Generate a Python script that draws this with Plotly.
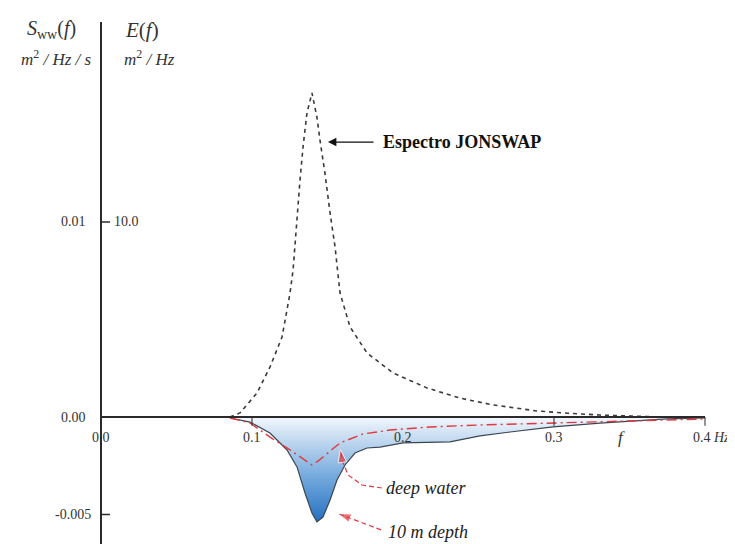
import plotly.graph_objects as go

# ---------------- data ----------------
# JONSWAP spectrum E(f) in m^2/Hz (right scale: 10.0 m^2/Hz  <->  0.01 m^2/Hz/s)
jons_f = [0.0854, 0.0921, 0.1033, 0.1119, 0.1199, 0.1252, 0.1272, 0.1298, 0.1318, 0.1338,
          0.1364, 0.1397, 0.1430, 0.1450, 0.1483, 0.1517, 0.1550, 0.1583, 0.1649, 0.1762,
          0.1934, 0.2159, 0.2377, 0.2596, 0.2887, 0.3060, 0.3305, 0.3702, 0.4000]
jons_E = [0.00, 0.21, 1.23, 2.56, 4.10, 6.36, 7.54, 10.46, 12.15, 13.85,
          15.59, 16.62, 15.38, 14.21, 12.51, 10.46, 8.72, 6.36, 4.62, 3.28,
          2.26, 1.49, 0.97, 0.62, 0.31, 0.21, 0.10, 0.00, 0.00]

# Sww(f), 10 m depth (m^2/Hz/s)
d10_f = [0.0854, 0.0987, 0.1119, 0.1232, 0.1298, 0.1351, 0.1397, 0.1430, 0.1470, 0.1517,
         0.1563, 0.1616, 0.1682, 0.1762, 0.1848, 0.2000, 0.2311, 0.2510, 0.2709, 0.2993,
         0.3305, 0.3748, 0.4000]
d10_S = [-0.00005, -0.00026, -0.00082, -0.00169, -0.00256, -0.00390, -0.00492, -0.00538,
         -0.00513, -0.00426, -0.00323, -0.00246, -0.00185, -0.00159, -0.00154, -0.00133,
         -0.00128, -0.00097, -0.00077, -0.00051, -0.00031, -0.00010, -0.00005]

# Sww(f), deep water (m^2/Hz/s)
deep_f = [0.0854, 0.0987, 0.1119, 0.1252, 0.1397, 0.1437, 0.1583, 0.1735, 0.1914, 0.2179,
          0.2510, 0.2974, 0.3437, 0.4000]
deep_S = [-0.00005, -0.00031, -0.00103, -0.00169, -0.00246, -0.00226, -0.00133, -0.00087,
          -0.00067, -0.00051, -0.00041, -0.00031, -0.00021, -0.00010]

E_TO_S = 0.001  # 10.0 m^2/Hz drawn at 0.01 m^2/Hz/s

x_ticks = [0.1, 0.2, 0.3]
x_tick_labels = ["0.1", "0.2", "0.3"]
y_ticks = [0.01, 0.0, -0.005]
y_tick_labels = ["0.01", "0.00", "-0.005"]
E_tick_value = 10.0
E_tick_label = "10.0"

# the page body has an 8px margin, so the plot is 727x536 and starts at (8, 8)
X_RANGE = [-0.06159, 0.41987]
Y_RANGE = [-0.006513, 0.020974]
Y_TOP = 0.02026

SERIF = "Liberation Serif"
TXT = "#333333"
RED = "#e0383f"

fig = go.Figure()

# 10 m depth filled area
fig.add_trace(go.Scatter(
    x=d10_f, y=d10_S, mode="lines", fill="tozeroy",
    line=dict(color="#3c4652", width=1.2),
    fillgradient=dict(type="vertical", start=-0.0054, stop=0.0,
                      colorscale=[[0, "#2470c0"], [0.45, "#78acde"], [1, "#f3f7fc"]]),
    showlegend=False, hoverinfo="skip"))

# deep water
fig.add_trace(go.Scatter(
    x=deep_f, y=deep_S, mode="lines",
    line=dict(color=RED, width=1.4, dash="10px,4px,2px,4px"),
    showlegend=False, hoverinfo="skip"))

# JONSWAP
fig.add_trace(go.Scatter(
    x=jons_f, y=[e * E_TO_S for e in jons_E], mode="lines",
    line=dict(color="#3a3a3a", width=1.6, dash="4px,4px"),
    showlegend=False, hoverinfo="skip"))

shapes = []
# axes
shapes.append(dict(type="line", x0=0, x1=0, y0=Y_RANGE[0], y1=Y_TOP, xref="x", yref="y",
                   line=dict(color="#2a2a2a", width=2)))
shapes.append(dict(type="line", x0=0, x1=0.4, y0=0, y1=0, xref="x", yref="y",
                   line=dict(color="#2a2a2a", width=2)))
# x ticks
for t in [0.1, 0.3, 0.4]:
    shapes.append(dict(type="line", x0=t, x1=t, y0=0.0, y1=-0.00045, xref="x", yref="y",
                       line=dict(color="#2a2a2a", width=1)))
# y ticks
for t in [0.01, -0.005]:
    shapes.append(dict(type="line", x0=0, x1=0.006, y0=t, y1=t, xref="x", yref="y",
                       line=dict(color="#2a2a2a", width=1.5)))

ann = []
# y tick labels (left column)
for v, lab in zip(y_ticks, y_tick_labels):
    ann.append(dict(x=-0.0185, y=v, text=lab, showarrow=False, xref="x", yref="y",
                    font=dict(family=SERIF, size=14, color=TXT), xanchor="center",
                    yanchor="middle"))
# right-side E tick label
ann.append(dict(x=0.0170, y=E_tick_value * E_TO_S, text=E_tick_label, showarrow=False,
                xref="x", yref="y", font=dict(family=SERIF, size=14, color=TXT),
                xanchor="center", yanchor="middle"))
ann.append(dict(x=0.0, y=-0.00105, text="0.0", showarrow=False, xref="x", yref="y",
                font=dict(family=SERIF, size=14, color=TXT), xanchor="center", yanchor="middle"))
# x tick labels
for v, lab in zip(x_ticks, x_tick_labels):
    ann.append(dict(x=v, y=-0.00105, text=lab, showarrow=False, xref="x", yref="y",
                    font=dict(family=SERIF, size=14, color=TXT), xanchor="center",
                    yanchor="middle"))
ann.append(dict(x=0.345, y=-0.00105, text="<i>f</i>", showarrow=False, xref="x", yref="y",
                font=dict(family=SERIF, size=17, color=TXT), xanchor="center", yanchor="middle"))
ann.append(dict(x=0.391, y=-0.00105, text="0.4 <i>Hz</i>", showarrow=False, xref="x", yref="y",
                font=dict(family=SERIF, size=14, color=TXT), xanchor="left", yanchor="middle"))

# header labels
ann.append(dict(x=-0.0330, y=0.01985, text="<i>S</i><sub>ww</sub>(<i>f</i>)", showarrow=False,
                xref="x", yref="y", font=dict(family=SERIF, size=20, color=TXT),
                xanchor="center", yanchor="middle"))
ann.append(dict(x=-0.0295, y=0.01840, text="<i>m</i><sup>2</sup><i> / Hz / s</i>", showarrow=False,
                xref="x", yref="y", font=dict(family=SERIF, size=17, color=TXT),
                xanchor="center", yanchor="middle"))
ann.append(dict(x=0.0270, y=0.01985, text="<i>E</i>(<i>f</i>)", showarrow=False,
                xref="x", yref="y", font=dict(family=SERIF, size=21, color=TXT),
                xanchor="center", yanchor="middle"))
ann.append(dict(x=0.0320, y=0.01840, text="<i>m</i><sup>2</sup><i> / Hz</i>", showarrow=False,
                xref="x", yref="y", font=dict(family=SERIF, size=17, color=TXT),
                xanchor="center", yanchor="middle"))

# JONSWAP label with arrow
ann.append(dict(x=0.1853, y=0.01410, text="<b>Espectro JONSWAP</b>", showarrow=False,
                xref="x", yref="y", font=dict(family=SERIF, size=18, color="#111111"),
                xanchor="left", yanchor="middle"))
ann.append(dict(x=0.1503, y=0.01410, ax=0.1815, ay=0.01410, axref="x", ayref="y",
                xref="x", yref="y", text="", showarrow=True, arrowhead=2, arrowsize=1.3,
                arrowwidth=1.3, arrowcolor="#111111"))

# deep water / 10 m depth labels
ann.append(dict(x=0.1875, y=-0.00364, text="<i>deep water</i>", showarrow=False,
                xref="x", yref="y", font=dict(family=SERIF, size=18, color="#222222"),
                xanchor="left", yanchor="middle"))
ann.append(dict(x=0.1890, y=-0.00590, text="<i>10 m depth</i>", showarrow=False,
                xref="x", yref="y", font=dict(family=SERIF, size=18, color="#222222"),
                xanchor="left", yanchor="middle"))

# red curved pointer arrows
arrow_deep_x = [0.1860, 0.1728, 0.1636, 0.1596, 0.1585]
arrow_deep_y = [-0.00364, -0.00349, -0.00297, -0.00221, -0.00165]
arrow_10_x = [0.1855, 0.1748, 0.1649, 0.1568]
arrow_10_y = [-0.00579, -0.00549, -0.00518, -0.00495]
for ax_, ay_ in [(arrow_deep_x, arrow_deep_y), (arrow_10_x, arrow_10_y)]:
    fig.add_trace(go.Scatter(
        x=ax_, y=ay_, mode="lines", line=dict(color=RED, width=1.2, dash="5px,3px"),
        showlegend=False, hoverinfo="skip"))
    fig.add_trace(go.Scatter(
        x=ax_[-2:], y=ay_[-2:], mode="markers",
        marker=dict(symbol="arrow", angleref="previous", size=[0, 14], color=RED),
        showlegend=False, hoverinfo="skip"))

fig.update_layout(
    width=727, height=536,
    margin=dict(l=0, r=0, t=0, b=0),
    paper_bgcolor="white", plot_bgcolor="white",
    xaxis=dict(range=X_RANGE, visible=False, fixedrange=True),
    yaxis=dict(range=Y_RANGE, visible=False, fixedrange=True),
    shapes=shapes, annotations=ann,
)

fig.write_html("out.html")
